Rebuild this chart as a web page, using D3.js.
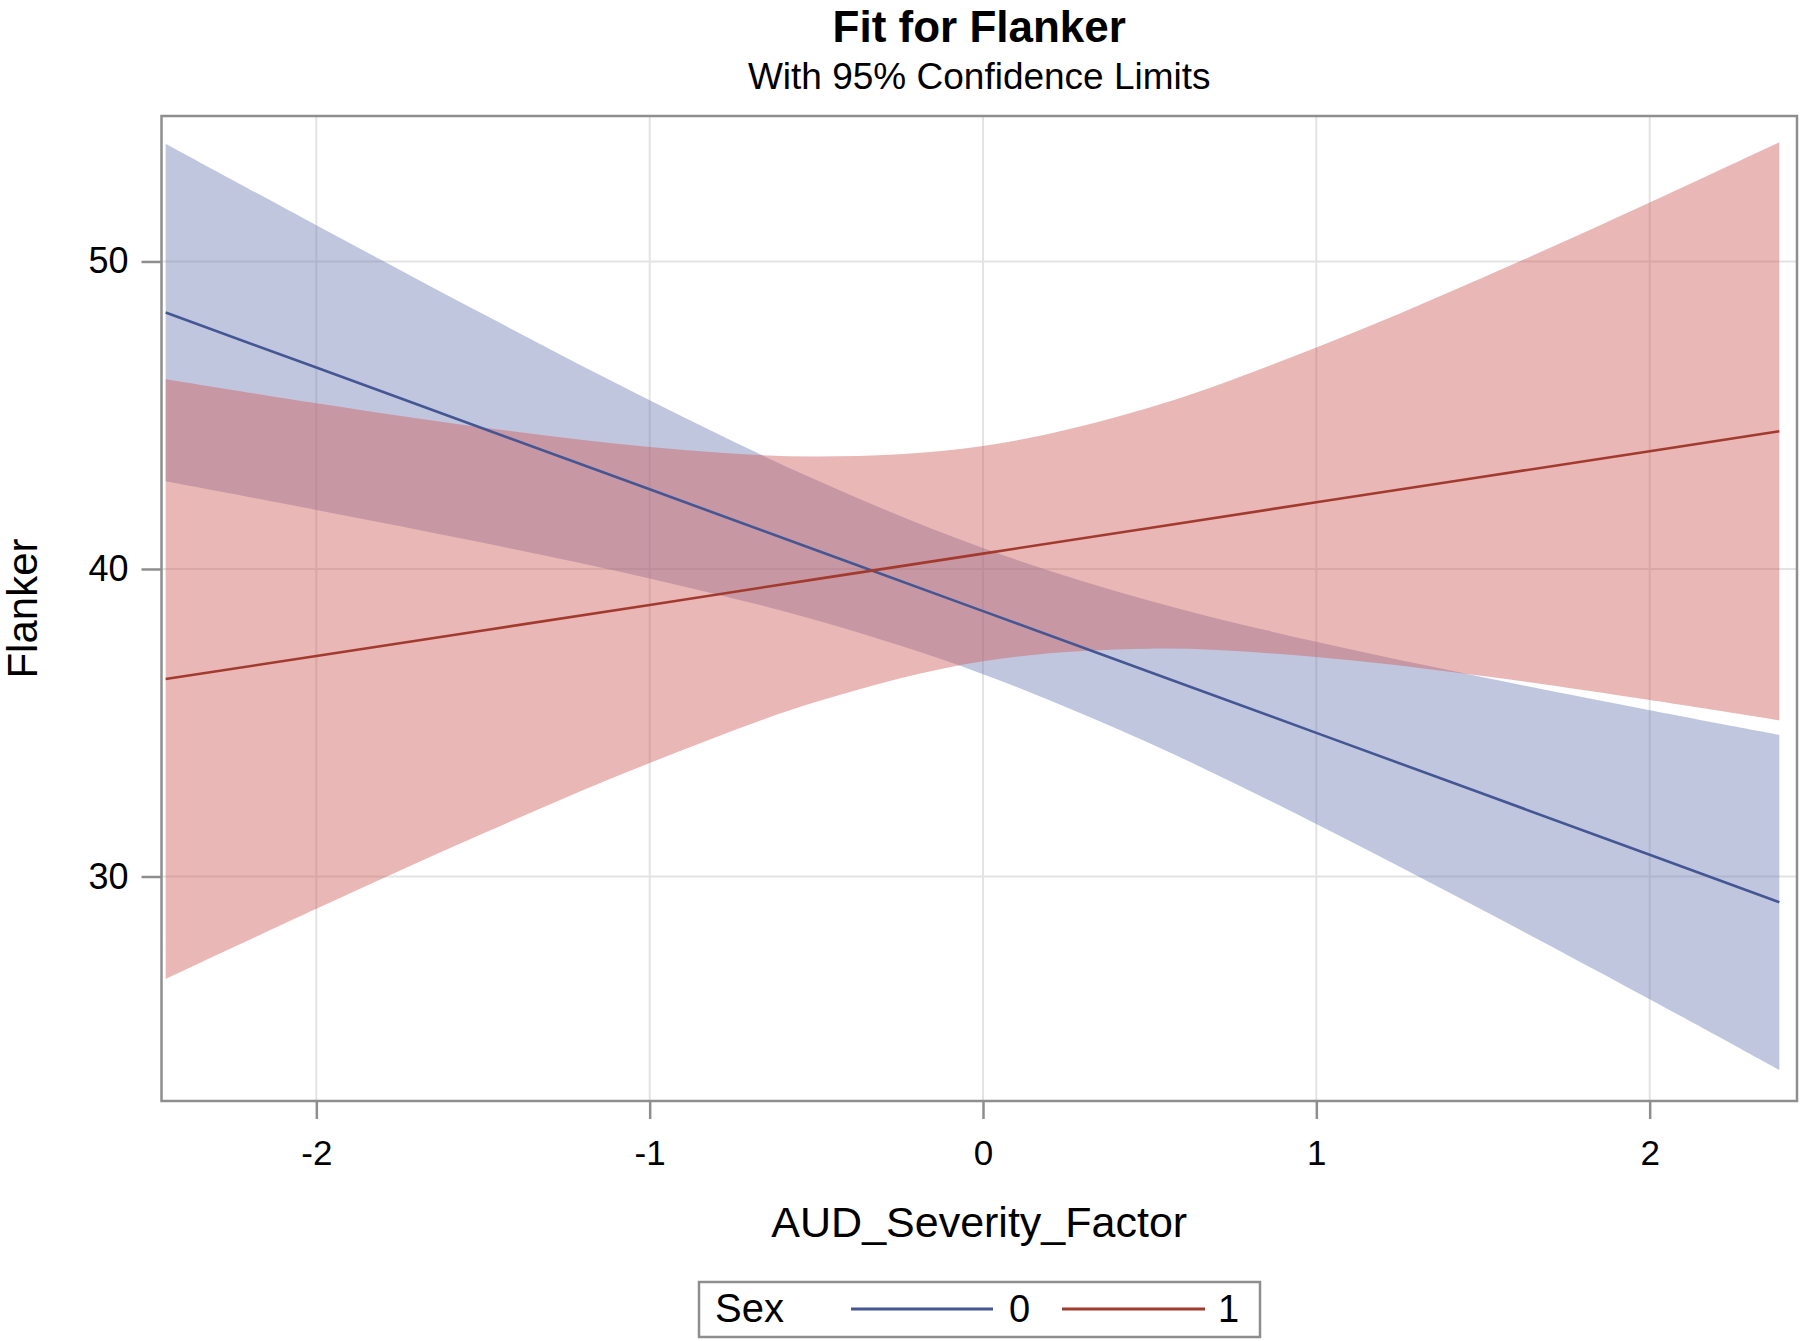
<!DOCTYPE html>
<html>
<head>
<meta charset="utf-8">
<script src="https://cdn.jsdelivr.net/npm/d3@7/dist/d3.min.js"></script>
<style>
  html, body { margin: 0; padding: 0; background: #fff; }
  svg { display: block; font-family: "Liberation Sans", Arial, sans-serif; }
</style>
</head>
<body>
<svg id="chart" width="1800" height="1341"></svg>
<script>
// ---- data ----
const xValues    = [-2.452, -2, -1.5, -1, -0.5, 0, 0.5, 1, 1.5, 2, 2.389];
const sex0Fit    = [48.34, 46.55, 44.57, 42.59, 40.61, 38.63, 36.65, 34.67, 32.69, 30.71, 29.16];
const sex0Upper  = [53.83, 51.18, 48.29, 45.49, 42.89, 40.68, 38.97, 37.63, 36.48, 35.41, 34.61];
const sex0Lower  = [42.85, 41.92, 40.85, 39.69, 38.33, 36.58, 34.33, 31.71, 28.90, 26.01, 23.71];
const sex1Fit    = [36.42, 37.17, 38.00, 38.83, 39.67, 40.50, 41.33, 42.17, 43.00, 43.83, 44.48];
const sex1Upper  = [46.17, 45.39, 44.60, 43.97, 43.66, 44.00, 45.25, 47.20, 49.48, 51.92, 53.88];
const sex1Lower  = [26.67, 28.95, 31.40, 33.69, 35.68, 37.00, 37.41, 37.14, 36.52, 35.74, 35.08];
const xTicks     = [-2, -1, 0, 1, 2];
const yTicks     = [30, 40, 50];
const groups     = ["0", "1"];
const titleText    = "Fit for Flanker";
const subtitleText = "With 95% Confidence Limits";
const xTitle       = "AUD_Severity_Factor";
const yTitle       = "Flanker";
const legendTitle  = "Sex";

// ---- layout ----
const L = 161.5, R = 1797, T = 116, B = 1101;
const svg = d3.select("#chart");

const x = d3.scaleLinear().domain([-2.4645, 2.442]).range([L, R]);
const y = d3.scaleLinear().domain([22.70, 54.73]).range([B, T]);

const lineColors = { "0": "#445694", "1": "#A23A2E" };
const fillColors = { "0": "#6F7EB3", "1": "#D05B5B" };

// gridlines
const grid = svg.append("g");
grid.selectAll("line.gx").data(xTicks).join("line")
  .attr("x1", d => x(d)).attr("x2", d => x(d)).attr("y1", T).attr("y2", B)
  .attr("stroke", "#e3e3e3").attr("stroke-width", 2);
grid.selectAll("line.gy").data(yTicks).join("line")
  .attr("x1", L).attr("x2", R).attr("y1", d => y(d)).attr("y2", d => y(d))
  .attr("stroke", "#e3e3e3").attr("stroke-width", 2);

// bands
const series = [
  { key: "0", fit: sex0Fit, up: sex0Upper, lo: sex0Lower },
  { key: "1", fit: sex1Fit, up: sex1Upper, lo: sex1Lower }
];
const area = d3.area()
  .x(d => x(d.x)).y0(d => y(d.lo)).y1(d => y(d.up))
  .curve(d3.curveCatmullRom);
const line = d3.line().x(d => x(d.x)).y(d => y(d.v)).curve(d3.curveLinear);

series.forEach(s => {
  const pts = xValues.map((xv, i) => ({ x: xv, up: s.up[i], lo: s.lo[i] }));
  svg.append("path").datum(pts)
    .attr("d", area)
    .attr("fill", fillColors[s.key])
    .attr("fill-opacity", 0.44);
});
series.forEach(s => {
  const pts = xValues.map((xv, i) => ({ x: xv, v: s.fit[i] }));
  svg.append("path").datum(pts)
    .attr("d", line)
    .attr("fill", "none")
    .attr("stroke", lineColors[s.key])
    .attr("stroke-width", 2.6);
});

// frame
svg.append("rect")
  .attr("x", L).attr("y", T).attr("width", R - L).attr("height", B - T)
  .attr("fill", "none").attr("stroke", "#8e8e8e").attr("stroke-width", 2.5);

// axes
const yAxis = svg.append("g").attr("transform", `translate(${L},0)`)
  .call(d3.axisLeft(y).tickValues(yTicks).tickSize(20).tickPadding(13).tickFormat(d3.format("d")));
const xAxis = svg.append("g").attr("transform", `translate(0,${B})`)
  .call(d3.axisBottom(x).tickValues(xTicks).tickSize(18).tickPadding(21).tickFormat(d => d < 0 ? "-" + Math.abs(d) : String(d)));
[yAxis, xAxis].forEach(a => {
  a.select(".domain").remove();
  a.selectAll(".tick line").attr("stroke", "#8e8e8e").attr("stroke-width", 2.5);
  a.selectAll(".tick text").attr("fill", "#000")
    .style("font-family", "'Liberation Sans', Arial, sans-serif");
});
yAxis.selectAll(".tick text").style("font-size", "36px");
xAxis.selectAll(".tick text").style("font-size", "35px");

// titles
const cx = (L + R) / 2;
svg.append("text").attr("x", cx).attr("y", 42).attr("text-anchor", "middle")
  .style("font-size", "44px").style("font-weight", "bold").text(titleText);
svg.append("text").attr("x", cx).attr("y", 89).attr("text-anchor", "middle")
  .style("font-size", "37px").text(subtitleText);
svg.append("text").attr("x", cx).attr("y", 1237).attr("text-anchor", "middle")
  .style("font-size", "43px").text(xTitle);
svg.append("text").attr("transform", `translate(37,${(T + B) / 2}) rotate(-90)`)
  .attr("text-anchor", "middle").style("font-size", "42px").text(yTitle);

// legend
const lg = svg.append("g");
lg.append("rect").attr("x", 699).attr("y", 1282).attr("width", 561).attr("height", 55)
  .attr("fill", "#fff").attr("stroke", "#8e8e8e").attr("stroke-width", 2.5);
lg.append("text").attr("x", 715).attr("y", 1322).style("font-size", "40px").text(legendTitle);
const legItems = [
  { key: groups[0], x1: 851, x2: 993, tx: 1009 },
  { key: groups[1], x1: 1062, x2: 1205, tx: 1218 }
];
legItems.forEach(it => {
  lg.append("line").attr("x1", it.x1).attr("x2", it.x2).attr("y1", 1309).attr("y2", 1309)
    .attr("stroke", lineColors[it.key]).attr("stroke-width", 3);
  lg.append("text").attr("x", it.tx).attr("y", 1322).style("font-size", "38px").text(it.key);
});
</script>
</body>
</html>
